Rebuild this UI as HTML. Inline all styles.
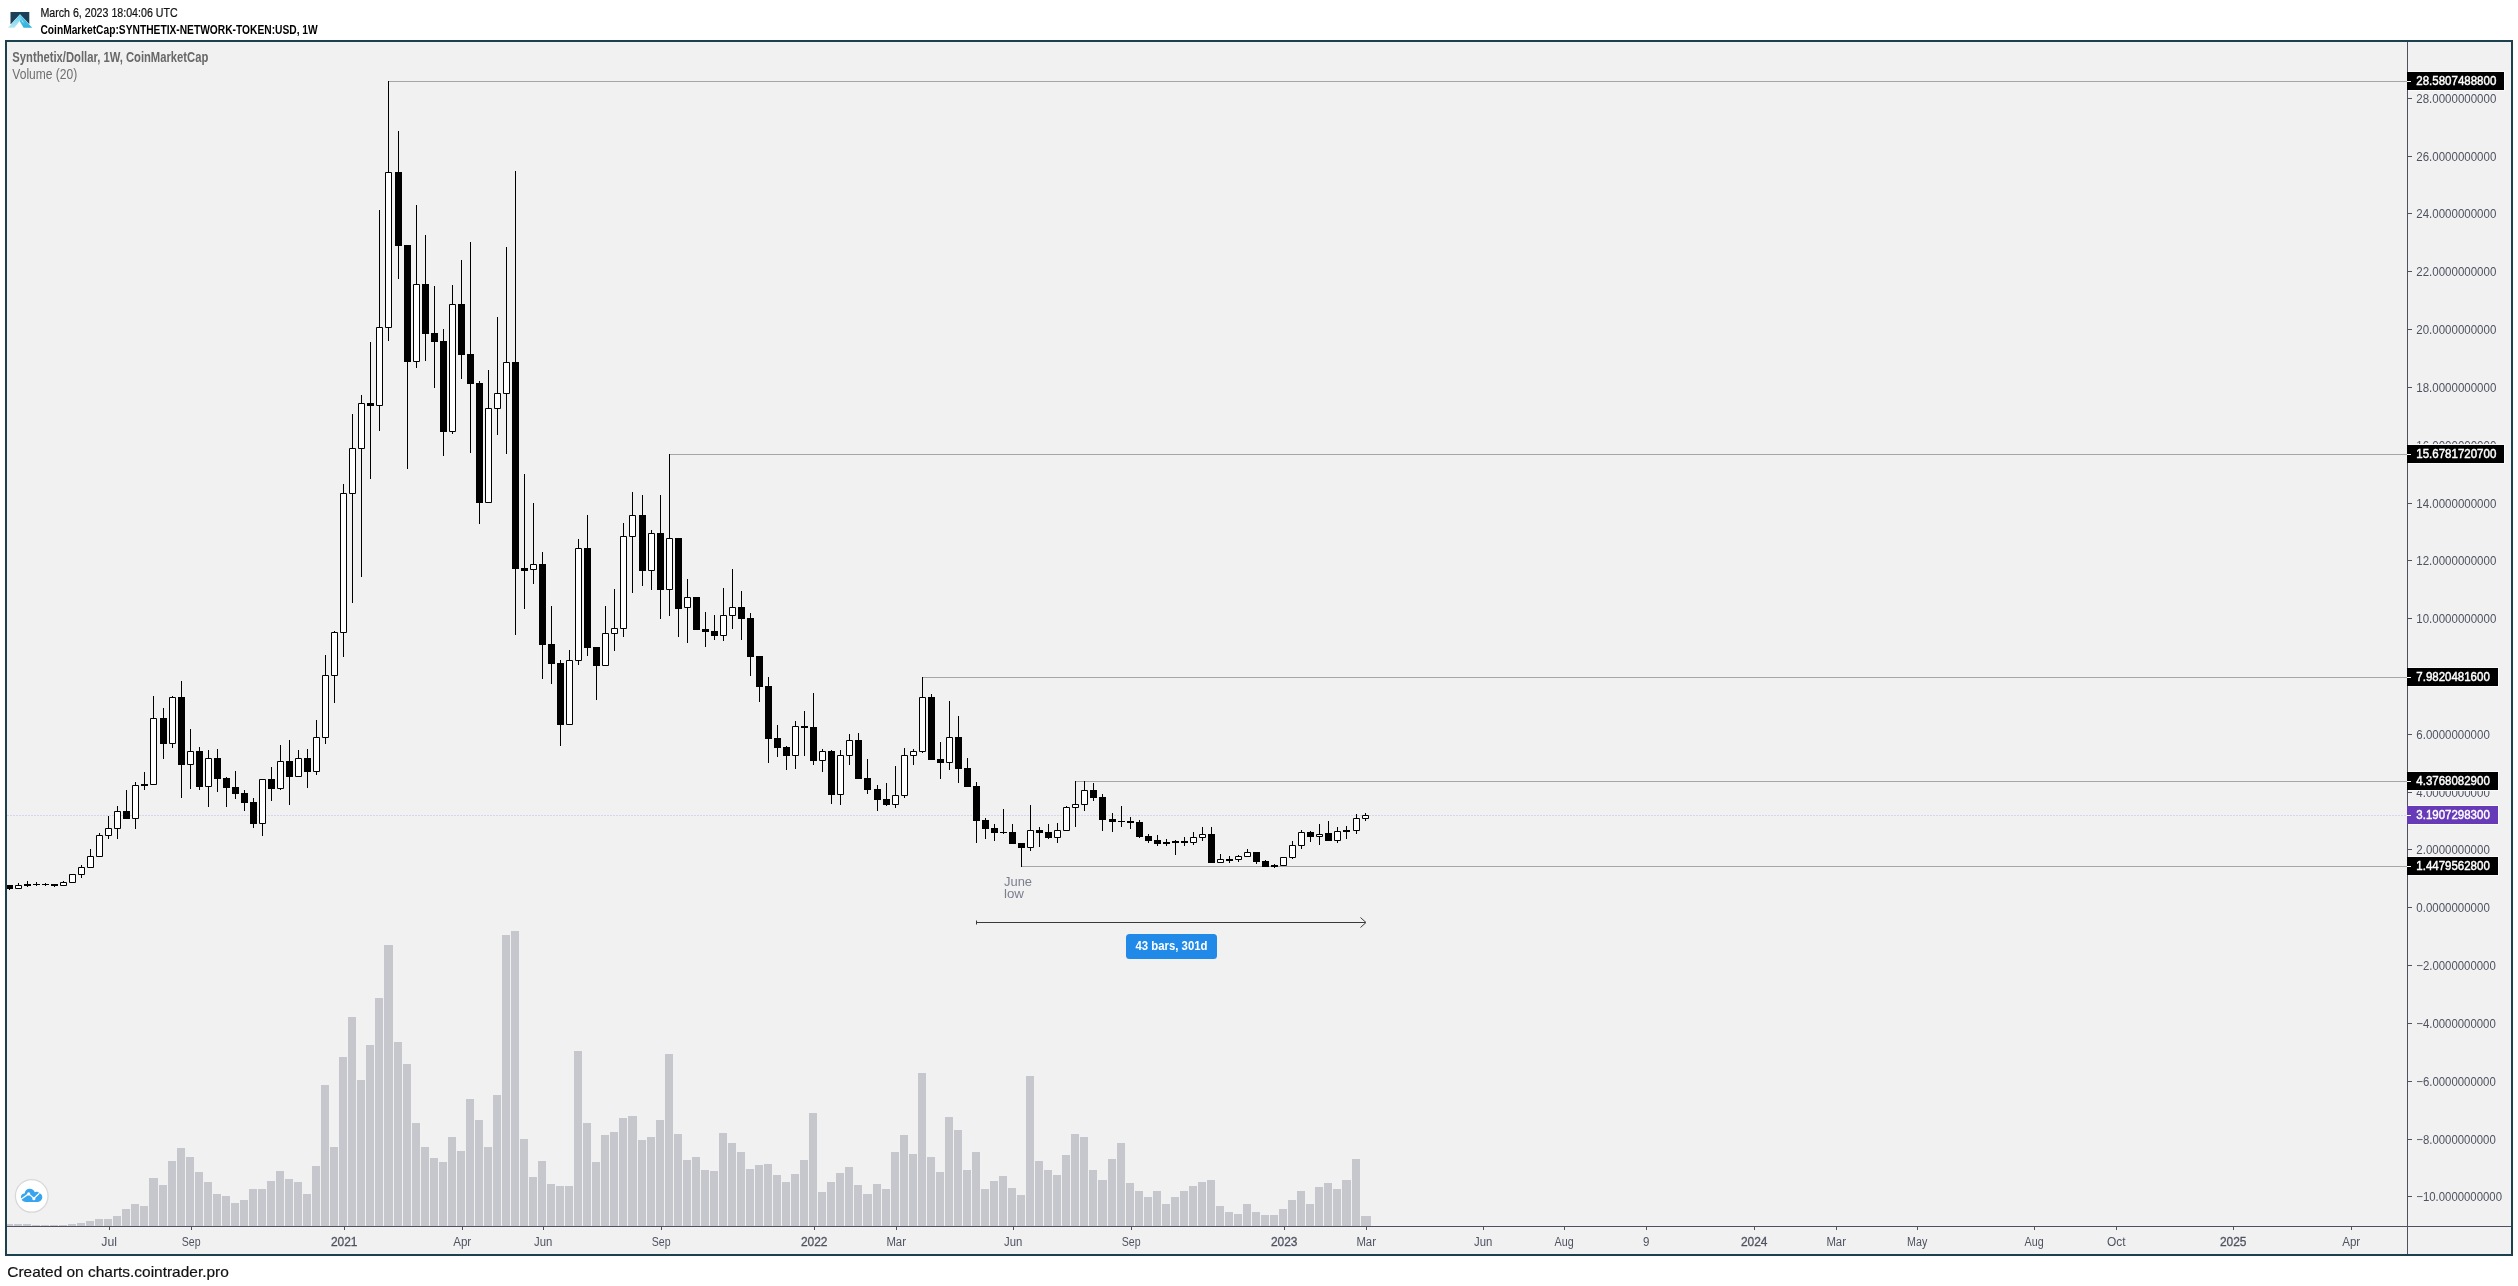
<!DOCTYPE html>
<html lang="en">
<head>
<meta charset="utf-8">
<title>Synthetix/Dollar, 1W, CoinMarketCap</title>
<style>
html,body{margin:0;padding:0;background:#fff;}
body{width:2518px;height:1286px;position:relative;overflow:hidden;font-family:"Liberation Sans",sans-serif;}
.header{position:absolute;left:0;top:0;width:2518px;height:40px;}
.header svg{position:absolute;left:0;top:0;}
.chart{position:absolute;left:5px;top:40px;width:2504px;height:1212px;border:2px solid #1c404e;background:#f1f1f1;}
.chart svg{position:absolute;left:-7px;top:-42px;}
.footer{position:absolute;left:0;top:1256px;width:2518px;height:30px;}
.footer svg{position:absolute;left:0;top:0;}
svg{will-change:transform;}
svg text{font-family:"Liberation Sans",sans-serif;}
.h1{font-size:12px;fill:#111;stroke:#111;stroke-width:0.2px;}
.h2{font-size:12px;font-weight:bold;fill:#000;}
.ft{font-size:15px;fill:#111;stroke:#111;stroke-width:0.2px;}
.vol{fill:#c6c7cc;}
.lvl{fill:#a6a6a6;}
.cur{stroke:#d9d4ec;stroke-width:1;stroke-dasharray:2 1;fill:none;}
.wk{stroke:#000;stroke-width:1;fill:none;transform:translate(0.5px,0);}
.cb{fill:#000;}
.cw{fill:#fff;stroke:#000;stroke-width:1;}
.note{font-size:12.5px;fill:#7b7f8e;}
.arr{stroke:#3a3a3a;stroke-width:1;fill:none;}
.rng{font-size:12px;font-weight:bold;fill:#fff;}
.pt{font-size:12.5px;fill:#4f5361;}
.pb{font-size:12.5px;fill:#fff;stroke:#fff;stroke-width:0.45px;}
.tt{font-size:12px;fill:#4f5361;}
.tt.b{stroke:#4f5361;stroke-width:0.3px;}
.lg1{font-size:14px;font-weight:bold;fill:#686868;}
.lg2{font-size:14px;fill:#6f6f6f;}
</style>
</head>
<body>
<div class="header">
<svg width="2518" height="40" viewBox="0 0 2518 40">
<defs>
<linearGradient id="lg_l" x1="0" y1="0" x2="0" y2="1"><stop offset="0" stop-color="#5fd0f0"/><stop offset="1" stop-color="#b4e6f2"/></linearGradient>
<linearGradient id="lg_r" x1="0" y1="0" x2="0" y2="1"><stop offset="0" stop-color="#55cdf0"/><stop offset="1" stop-color="#32b0da"/></linearGradient>
</defs>
<rect x="10.5" y="12" width="18.8" height="12.1" fill="#1b3f57"/>
<path d="M20 14.2L7.6 27.8H32.6z" fill="#fff"/>
<path d="M20 14.600L32.200 27.800H23.600L19.600 21z" fill="url(#lg_r)"/>
<path d="M20 14.600L8 27.800H14.500L19.600 21L21.700 19.100z" fill="url(#lg_l)"/>
<path d="M21.400 18.800L24 22.900L22.200 21.900z" fill="#aee5f3"/>
<text class="h1" x="40.400" y="16.700" textLength="137.300" lengthAdjust="spacingAndGlyphs">March 6, 2023 18:04:06 UTC</text>
<text class="h2" x="40.400" y="33.600" textLength="277.300" lengthAdjust="spacingAndGlyphs">CoinMarketCap:SYNTHETIX-NETWORK-TOKEN:USD, 1W</text>
</svg>
</div>
<div class="chart">
<svg width="2518" height="1286" viewBox="0 0 2518 1286">
<path class="vol" d="M7 1224h6V1226h-6zM14 1224h8V1226h-8zM23 1224h8V1226h-8zM32 1225h8V1226h-8zM41 1225h8V1226h-8zM50 1225h8V1226h-8zM59 1225h8V1226h-8zM68 1224h8V1226h-8zM77 1223h8V1226h-8zM86 1221h8V1226h-8zM95 1219h8V1226h-8zM104 1219h8V1226h-8zM113 1216h8V1226h-8zM122 1209h8V1226h-8zM131 1204h8V1226h-8zM140 1206h8V1226h-8zM149 1178h9V1226h-9zM159 1185h8V1226h-8zM168 1161h8V1226h-8zM177 1148h8V1226h-8zM186 1157h8V1226h-8zM195 1172h8V1226h-8zM204 1182h8V1226h-8zM213 1194h8V1226h-8zM222 1196h8V1226h-8zM231 1203h8V1226h-8zM240 1200h8V1226h-8zM249 1189h8V1226h-8zM258 1189h8V1226h-8zM267 1181h8V1226h-8zM276 1171h8V1226h-8zM285 1179h8V1226h-8zM294 1182h8V1226h-8zM303 1194h8V1226h-8zM312 1166h8V1226h-8zM321 1085h8V1226h-8zM330 1147h8V1226h-8zM339 1057h8V1226h-8zM348 1017h8V1226h-8zM357 1080h8V1226h-8zM366 1045h8V1226h-8zM375 998h8V1226h-8zM384 945h9V1226h-9zM394 1042h8V1226h-8zM403 1064h8V1226h-8zM412 1123h8V1226h-8zM421 1147h8V1226h-8zM430 1158h8V1226h-8zM439 1162h8V1226h-8zM448 1137h8V1226h-8zM457 1151h8V1226h-8zM466 1099h8V1226h-8zM475 1120h8V1226h-8zM484 1147h8V1226h-8zM493 1095h8V1226h-8zM502 935h8V1226h-8zM511 931h8V1226h-8zM520 1139h8V1226h-8zM529 1177h8V1226h-8zM538 1161h8V1226h-8zM547 1184h8V1226h-8zM556 1186h8V1226h-8zM565 1186h8V1226h-8zM574 1051h8V1226h-8zM583 1123h8V1226h-8zM592 1162h8V1226h-8zM601 1135h8V1226h-8zM610 1132h8V1226h-8zM619 1118h8V1226h-8zM628 1116h9V1226h-9zM638 1140h8V1226h-8zM647 1137h8V1226h-8zM656 1120h8V1226h-8zM665 1054h8V1226h-8zM674 1134h8V1226h-8zM683 1160h8V1226h-8zM692 1157h8V1226h-8zM701 1170h8V1226h-8zM710 1171h8V1226h-8zM719 1133h8V1226h-8zM728 1143h8V1226h-8zM737 1152h8V1226h-8zM746 1169h8V1226h-8zM755 1165h8V1226h-8zM764 1164h8V1226h-8zM773 1175h8V1226h-8zM782 1182h8V1226h-8zM791 1174h8V1226h-8zM800 1160h8V1226h-8zM809 1113h8V1226h-8zM818 1192h8V1226h-8zM827 1182h8V1226h-8zM836 1173h8V1226h-8zM845 1167h8V1226h-8zM854 1185h8V1226h-8zM863 1194h9V1226h-9zM873 1184h8V1226h-8zM882 1189h8V1226h-8zM891 1152h8V1226h-8zM900 1135h8V1226h-8zM909 1154h8V1226h-8zM918 1073h8V1226h-8zM927 1157h8V1226h-8zM936 1172h8V1226h-8zM945 1117h8V1226h-8zM954 1130h8V1226h-8zM963 1170h8V1226h-8zM972 1152h8V1226h-8zM981 1189h8V1226h-8zM990 1181h8V1226h-8zM999 1176h8V1226h-8zM1008 1188h8V1226h-8zM1017 1195h8V1226h-8zM1026 1076h8V1226h-8zM1035 1161h8V1226h-8zM1044 1170h8V1226h-8zM1053 1175h8V1226h-8zM1062 1155h8V1226h-8zM1071 1134h8V1226h-8zM1080 1137h8V1226h-8zM1089 1170h8V1226h-8zM1098 1180h9V1226h-9zM1108 1159h8V1226h-8zM1117 1143h8V1226h-8zM1126 1183h8V1226h-8zM1135 1191h8V1226h-8zM1144 1197h8V1226h-8zM1153 1191h8V1226h-8zM1162 1204h8V1226h-8zM1171 1197h8V1226h-8zM1180 1191h8V1226h-8zM1189 1186h8V1226h-8zM1198 1182h8V1226h-8zM1207 1180h8V1226h-8zM1216 1206h8V1226h-8zM1225 1212h8V1226h-8zM1234 1214h8V1226h-8zM1243 1204h8V1226h-8zM1252 1212h8V1226h-8zM1261 1215h8V1226h-8zM1270 1215h8V1226h-8zM1279 1209h8V1226h-8zM1288 1200h8V1226h-8zM1297 1191h8V1226h-8zM1306 1204h8V1226h-8zM1315 1187h8V1226h-8zM1324 1183h8V1226h-8zM1333 1189h8V1226h-8zM1342 1180h9V1226h-9zM1352 1159h8V1226h-8zM1361 1216h10V1226h-10z"/>
<rect class="lvl" x="388" y="81" width="2019" height="1"/>
<rect class="lvl" x="669" y="454" width="1738" height="1"/>
<rect class="lvl" x="922" y="677" width="1485" height="1"/>
<rect class="lvl" x="1075" y="781" width="1332" height="1"/>
<rect class="lvl" x="1021" y="866" width="1386" height="1"/>
<path class="cur" d="M7 815.5H2407"/>
<path class="wk" d="M9 885v5M18 883v6M27 881v6M36 882v4M45 883v3M54 884v3M63 881v5M72 874v9M81 865v13M90 849v19M99 833v24M108 816v23M117 806v33M126 790v29M135 782v47M144 772v18M153 696v89M163 708v51M172 696v52M181 681v117M190 729v60M199 747v43M208 750v57M217 749v43M226 777v30M235 771v28M244 790v21M253 798v30M262 779v57M271 767v34M280 745v45M289 740v65M298 750v27M307 749v39M316 720v55M325 655v89M334 631v72M343 484v173M352 414v189M361 395v182M370 342v137M379 210v221M388 81v260M398 131v148M407 245v224M416 205v163M425 235v126M434 286v102M443 329v127M452 285v149M461 260v119M470 242v211M479 381v143M488 370v133M497 317v118M506 247v207M515 171v464M524 474v135M533 503v81M542 552v127M551 606v78M560 660v86M569 650v75M578 539v126M587 515v141M596 647v53M605 606v60M614 589v62M623 523v114M632 492v101M642 495v91M651 530v60M660 495v124M669 454v162M678 538v99M687 579v64M696 597v33M705 612v35M714 615v25M723 588v53M732 569v60M741 591v49M750 613v63M759 656v46M768 677v86M777 725v32M786 746v24M795 721v48M804 711v45M813 693v72M822 749v23M831 750v54M840 750v55M849 734v31M858 733v46M867 759v35M877 785v26M886 783v23M895 766v42M904 748v50M913 749v16M922 677v76M931 694v66M940 742v37M949 701v69M958 716v67M967 758v29M976 782v61M985 818v21M994 824v17M1003 809v25M1012 824v20M1021 843v24M1030 805v46M1039 827v20M1048 824v15M1057 823v20M1066 806v25M1075 781v46M1084 781v30M1093 783v18M1102 794v37M1112 813v19M1121 806v21M1130 817v12M1139 820v18M1148 834v9M1157 835v11M1166 839v7M1175 840v15M1184 837v9M1193 832v13M1202 827v14M1211 827v36M1220 854v9M1229 856v7M1238 855v7M1247 849v8M1256 852v12M1265 860v7M1274 864v4M1283 857v9M1292 841v18M1301 830v19M1310 831v11M1319 824v21M1328 821v20M1337 827v16M1346 826v13M1356 814v20M1365 813v8"/>
<path class="cb" d="M7 885h6v4h-6zM24 884h7v2h-7zM33 884h7v1h-7zM42 884h7v1h-7zM51 884h7v2h-7zM123 811h7v8h-7zM141 784h7v2h-7zM160 718h7v26h-7zM178 697h7v68h-7zM196 751h7v36h-7zM214 758h7v21h-7zM223 778h7v10h-7zM232 787h7v7h-7zM241 793h7v10h-7zM250 802h7v22h-7zM268 779h7v10h-7zM286 761h7v16h-7zM304 758h7v14h-7zM367 403h7v3h-7zM395 172h7v74h-7zM404 245h7v117h-7zM422 284h7v50h-7zM431 333h7v9h-7zM440 341h7v91h-7zM458 304h7v51h-7zM467 354h7v30h-7zM476 383h7v120h-7zM512 362h7v207h-7zM521 568h7v3h-7zM539 564h7v81h-7zM548 644h7v20h-7zM557 663h7v62h-7zM584 548h7v100h-7zM593 647h7v19h-7zM639 515h7v56h-7zM657 533h7v57h-7zM675 538h7v71h-7zM693 597h7v33h-7zM702 629h7v3h-7zM711 631h7v5h-7zM738 607h7v12h-7zM747 618h7v39h-7zM756 656h7v31h-7zM765 686h7v53h-7zM774 738h7v10h-7zM783 747h7v9h-7zM801 726h7v2h-7zM810 727h7v34h-7zM828 751h7v44h-7zM855 740h7v39h-7zM864 778h7v12h-7zM874 789h7v11h-7zM883 799h7v6h-7zM928 697h7v63h-7zM937 759h7v4h-7zM955 737h7v32h-7zM964 768h7v19h-7zM973 786h7v35h-7zM982 820h7v9h-7zM991 828h7v5h-7zM1000 832h7v1h-7zM1009 832h7v12h-7zM1018 843h7v5h-7zM1036 830h7v3h-7zM1045 832h7v6h-7zM1090 790h7v8h-7zM1099 797h7v23h-7zM1109 819h7v3h-7zM1118 821h7v1h-7zM1127 821h7v2h-7zM1136 822h7v15h-7zM1145 836h7v5h-7zM1154 840h7v4h-7zM1163 842h7v2h-7zM1172 841h7v2h-7zM1181 841h7v2h-7zM1208 834h7v29h-7zM1226 859h7v2h-7zM1253 852h7v10h-7zM1262 861h7v6h-7zM1271 865h7v2h-7zM1307 832h7v5h-7zM1325 833h7v8h-7zM1343 830h7v2h-7z"/>
<path class="cw" d="M15.5 885.5h6v3h-6zM60.5 882.5h6v3h-6zM69.5 874.5h6v8h-6zM78.5 867.5h6v7h-6zM87.5 856.5h6v11h-6zM96.5 835.5h6v21h-6zM105.5 828.5h6v7h-6zM114.5 811.5h6v17h-6zM132.5 785.5h6v33h-6zM150.5 718.5h6v66h-6zM169.5 697.5h6v46h-6zM187.5 751.5h6v13h-6zM205.5 758.5h6v28h-6zM259.5 779.5h6v44h-6zM277.5 761.5h6v27h-6zM295.5 758.5h6v18h-6zM313.5 737.5h6v34h-6zM322.5 675.5h6v62h-6zM331.5 632.5h6v43h-6zM340.5 493.5h6v139h-6zM349.5 448.5h6v45h-6zM358.5 403.5h6v45h-6zM376.5 327.5h6v78h-6zM385.5 172.5h6v155h-6zM413.5 284.5h6v77h-6zM449.5 304.5h6v127h-6zM485.5 408.5h6v94h-6zM494.5 393.5h6v15h-6zM503.5 362.5h6v31h-6zM530.5 564.5h6v5h-6zM566.5 660.5h6v64h-6zM575.5 548.5h6v112h-6zM602.5 633.5h6v32h-6zM611.5 628.5h6v5h-6zM620.5 536.5h6v92h-6zM629.5 515.5h6v21h-6zM648.5 533.5h6v37h-6zM666.5 538.5h6v51h-6zM684.5 597.5h6v10h-6zM720.5 615.5h6v20h-6zM729.5 607.5h6v8h-6zM792.5 726.5h6v29h-6zM819.5 751.5h6v9h-6zM837.5 755.5h6v39h-6zM846.5 740.5h6v15h-6zM892.5 795.5h6v9h-6zM901.5 755.5h6v40h-6zM910.5 751.5h6v4h-6zM919.5 697.5h6v54h-6zM946.5 737.5h6v25h-6zM1027.5 830.5h6v17h-6zM1054.5 830.5h6v7h-6zM1063.5 807.5h6v23h-6zM1072.5 804.5h6v3h-6zM1081.5 790.5h6v14h-6zM1190.5 837.5h6v5h-6zM1199.5 834.5h6v3h-6zM1217.5 859.5h6v3h-6zM1235.5 856.5h6v3h-6zM1244.5 852.5h6v4h-6zM1280.5 857.5h6v8h-6zM1289.5 845.5h6v12h-6zM1298.5 832.5h6v13h-6zM1316.5 834.5h6v2h-6zM1334.5 831.5h6v9h-6zM1353.5 818.5h6v12h-6zM1362.5 815.5h6v3h-6z"/>
<text class="note" x="1004" y="885.7" textLength="28" lengthAdjust="spacingAndGlyphs">June</text>
<text class="note" x="1004" y="898.2" textLength="20" lengthAdjust="spacingAndGlyphs">low</text>
<path class="arr" d="M976.5 922.5H1365.5M976.5 920.5v4M1360.5 917.5l5.5 5l-5.5 5"/>
<rect x="1126" y="934" width="91" height="25" rx="3.5" fill="#218ae8"/>
<text class="rng" x="1171.5" y="949.5" text-anchor="middle" textLength="72" lengthAdjust="spacingAndGlyphs">43 bars, 301d</text>
<rect x="2407" y="42" width="1" height="1212" fill="#4f5361"/>
<rect x="7" y="1226" width="2504" height="1" fill="#4f5361"/>
<text class="pt" x="2416.3" y="103.1" textLength="80.0" lengthAdjust="spacingAndGlyphs">28.0000000000</text>
<text class="pt" x="2416.3" y="161.1" textLength="80.0" lengthAdjust="spacingAndGlyphs">26.0000000000</text>
<text class="pt" x="2416.3" y="218.1" textLength="80.0" lengthAdjust="spacingAndGlyphs">24.0000000000</text>
<text class="pt" x="2416.3" y="276.1" textLength="80.0" lengthAdjust="spacingAndGlyphs">22.0000000000</text>
<text class="pt" x="2416.3" y="334.1" textLength="80.0" lengthAdjust="spacingAndGlyphs">20.0000000000</text>
<text class="pt" x="2416.3" y="392.1" textLength="80.0" lengthAdjust="spacingAndGlyphs">18.0000000000</text>
<text class="pt" x="2416.3" y="450.1" textLength="80.0" lengthAdjust="spacingAndGlyphs">16.0000000000</text>
<text class="pt" x="2416.3" y="508.1" textLength="80.0" lengthAdjust="spacingAndGlyphs">14.0000000000</text>
<text class="pt" x="2416.3" y="565.1" textLength="80.0" lengthAdjust="spacingAndGlyphs">12.0000000000</text>
<text class="pt" x="2416.3" y="623.1" textLength="80.0" lengthAdjust="spacingAndGlyphs">10.0000000000</text>
<text class="pt" x="2416.3" y="681.1" textLength="73.5" lengthAdjust="spacingAndGlyphs">8.0000000000</text>
<text class="pt" x="2416.3" y="739.1" textLength="73.5" lengthAdjust="spacingAndGlyphs">6.0000000000</text>
<text class="pt" x="2416.3" y="797.1" textLength="73.5" lengthAdjust="spacingAndGlyphs">4.0000000000</text>
<text class="pt" x="2416.3" y="854.1" textLength="73.5" lengthAdjust="spacingAndGlyphs">2.0000000000</text>
<text class="pt" x="2416.3" y="912.1" textLength="73.5" lengthAdjust="spacingAndGlyphs">0.0000000000</text>
<text class="pt" x="2416.3" y="970.1" textLength="79.5" lengthAdjust="spacingAndGlyphs">−2.0000000000</text>
<text class="pt" x="2416.3" y="1028.1" textLength="79.5" lengthAdjust="spacingAndGlyphs">−4.0000000000</text>
<text class="pt" x="2416.3" y="1086.1" textLength="79.5" lengthAdjust="spacingAndGlyphs">−6.0000000000</text>
<text class="pt" x="2416.3" y="1144.1" textLength="79.5" lengthAdjust="spacingAndGlyphs">−8.0000000000</text>
<text class="pt" x="2416.3" y="1201.1" textLength="85.7" lengthAdjust="spacingAndGlyphs">−10.0000000000</text>
<path d="M2408 98.5h4M2408 156.5h4M2408 213.5h4M2408 271.5h4M2408 329.5h4M2408 387.5h4M2408 445.5h4M2408 503.5h4M2408 560.5h4M2408 618.5h4M2408 676.5h4M2408 734.5h4M2408 792.5h4M2408 849.5h4M2408 907.5h4M2408 965.5h4M2408 1023.5h4M2408 1081.5h4M2408 1139.5h4M2408 1196.5h4" stroke="#4f5361" stroke-width="1" fill="none"/>
<rect x="2408" y="71" width="97" height="20" fill="#fafafa"/>
<rect x="2407" y="72" width="97" height="18" fill="#000"/>
<rect x="2407" y="81" width="4" height="1" fill="#fff"/>
<text class="pb" x="2416.3" y="85.2" textLength="80.0" lengthAdjust="spacingAndGlyphs">28.5807488800</text>
<rect x="2408" y="444" width="97" height="20" fill="#fafafa"/>
<rect x="2407" y="445" width="97" height="18" fill="#000"/>
<rect x="2407" y="454" width="4" height="1" fill="#fff"/>
<text class="pb" x="2416.3" y="458.2" textLength="80.0" lengthAdjust="spacingAndGlyphs">15.6781720700</text>
<rect x="2408" y="667" width="91" height="20" fill="#fafafa"/>
<rect x="2407" y="668" width="91" height="18" fill="#000"/>
<rect x="2407" y="677" width="4" height="1" fill="#fff"/>
<text class="pb" x="2416.3" y="681.2" textLength="73.5" lengthAdjust="spacingAndGlyphs">7.9820481600</text>
<rect x="2408" y="771" width="91" height="20" fill="#fafafa"/>
<rect x="2407" y="772" width="91" height="18" fill="#000"/>
<rect x="2407" y="781" width="4" height="1" fill="#fff"/>
<text class="pb" x="2416.3" y="785.2" textLength="73.5" lengthAdjust="spacingAndGlyphs">4.3768082900</text>
<rect x="2408" y="805" width="91" height="20" fill="#fafafa"/>
<rect x="2407" y="806" width="91" height="18" fill="#673ab7"/>
<rect x="2407" y="815" width="4" height="1" fill="#fff"/>
<text class="pb" x="2416.3" y="819.2" textLength="73.5" lengthAdjust="spacingAndGlyphs">3.1907298300</text>
<rect x="2408" y="856" width="91" height="20" fill="#fafafa"/>
<rect x="2407" y="857" width="91" height="18" fill="#000"/>
<rect x="2407" y="866" width="4" height="1" fill="#fff"/>
<text class="pb" x="2416.3" y="870.2" textLength="73.5" lengthAdjust="spacingAndGlyphs">1.4479562800</text>
<text class="tt" x="109.2" y="1246.2" text-anchor="middle" textLength="15.7" lengthAdjust="spacingAndGlyphs">Jul</text>
<text class="tt" x="191.2" y="1246.2" text-anchor="middle" textLength="18.8" lengthAdjust="spacingAndGlyphs">Sep</text>
<text class="tt b" x="344.2" y="1246.2" text-anchor="middle" textLength="26.6" lengthAdjust="spacingAndGlyphs">2021</text>
<text class="tt" x="462.2" y="1246.2" text-anchor="middle" textLength="18" lengthAdjust="spacingAndGlyphs">Apr</text>
<text class="tt" x="543.2" y="1246.2" text-anchor="middle" textLength="18.3" lengthAdjust="spacingAndGlyphs">Jun</text>
<text class="tt" x="661.2" y="1246.2" text-anchor="middle" textLength="18.8" lengthAdjust="spacingAndGlyphs">Sep</text>
<text class="tt b" x="814.2" y="1246.2" text-anchor="middle" textLength="26.6" lengthAdjust="spacingAndGlyphs">2022</text>
<text class="tt" x="896.2" y="1246.2" text-anchor="middle" textLength="19.6" lengthAdjust="spacingAndGlyphs">Mar</text>
<text class="tt" x="1013.2" y="1246.2" text-anchor="middle" textLength="18.3" lengthAdjust="spacingAndGlyphs">Jun</text>
<text class="tt" x="1131.2" y="1246.2" text-anchor="middle" textLength="18.8" lengthAdjust="spacingAndGlyphs">Sep</text>
<text class="tt b" x="1284.2" y="1246.2" text-anchor="middle" textLength="26.6" lengthAdjust="spacingAndGlyphs">2023</text>
<text class="tt" x="1366.2" y="1246.2" text-anchor="middle" textLength="19.6" lengthAdjust="spacingAndGlyphs">Mar</text>
<text class="tt" x="1483.2" y="1246.2" text-anchor="middle" textLength="18.3" lengthAdjust="spacingAndGlyphs">Jun</text>
<text class="tt" x="1564.2" y="1246.2" text-anchor="middle" textLength="19.2" lengthAdjust="spacingAndGlyphs">Aug</text>
<text class="tt" x="1646.2" y="1246.2" text-anchor="middle" textLength="6.4" lengthAdjust="spacingAndGlyphs">9</text>
<text class="tt b" x="1754.2" y="1246.2" text-anchor="middle" textLength="26.6" lengthAdjust="spacingAndGlyphs">2024</text>
<text class="tt" x="1836.2" y="1246.2" text-anchor="middle" textLength="19.6" lengthAdjust="spacingAndGlyphs">Mar</text>
<text class="tt" x="1917.2" y="1246.2" text-anchor="middle" textLength="20.2" lengthAdjust="spacingAndGlyphs">May</text>
<text class="tt" x="2034.2" y="1246.2" text-anchor="middle" textLength="19.2" lengthAdjust="spacingAndGlyphs">Aug</text>
<text class="tt" x="2116.2" y="1246.2" text-anchor="middle" textLength="18.6" lengthAdjust="spacingAndGlyphs">Oct</text>
<text class="tt b" x="2233.2" y="1246.2" text-anchor="middle" textLength="26.6" lengthAdjust="spacingAndGlyphs">2025</text>
<text class="tt" x="2351.2" y="1246.2" text-anchor="middle" textLength="18" lengthAdjust="spacingAndGlyphs">Apr</text>
<path d="M109.5 1227v3M191.5 1227v3M344.5 1227v3M462.5 1227v3M543.5 1227v3M661.5 1227v3M814.5 1227v3M896.5 1227v3M1013.5 1227v3M1131.5 1227v3M1284.5 1227v3M1366.5 1227v3M1483.5 1227v3M1564.5 1227v3M1646.5 1227v3M1754.5 1227v3M1836.5 1227v3M1917.5 1227v3M2034.5 1227v3M2116.5 1227v3M2233.5 1227v3M2351.5 1227v3" stroke="#4f5361" stroke-width="1" fill="none"/>
<text class="lg1" x="12.3" y="61.6" textLength="196" lengthAdjust="spacingAndGlyphs">Synthetix/Dollar, 1W, CoinMarketCap</text>
<text class="lg2" x="12.3" y="79.4" textLength="65" lengthAdjust="spacingAndGlyphs">Volume (20)</text>
<g class="tvlogo"><circle cx="31.7" cy="1195.9" r="16.3" fill="#fff" stroke="#d8d8d8" stroke-width="1.3"/>
<path fill="#37a4ee" d="M24.6 1193.6c0.2-2.9 2.4-4.9 5.2-4.9c2.4 0 4.2 1.4 5 3.5c0.9-0.5 2.1-0.7 3.2-0.2c0.5 0.2 0.9 0.6 1.2 1c1.8 0.6 3.1 2.300 3.100 4.300c0 2.600-2 4.600-4.600 4.600h-11.900c-2.800 0-4.900-2.100-4.900-4.600c0-2.100 1.500-3.600 3.700-3.700z"/>
<path fill="none" stroke="#fff" stroke-width="1.25" d="M20.700 1199.600l7.900-5.700l5.300 4.600l5.400-5.300"/>
<circle cx="28.700" cy="1193.900" r="1.550" fill="#fff"/><circle cx="33.900" cy="1198.700" r="1.550" fill="#fff"/></g>
</svg>
</div>
<div class="footer">
<svg width="2518" height="30" viewBox="0 0 2518 30">
<text class="ft" x="7.300" y="21" textLength="221.500" lengthAdjust="spacingAndGlyphs">Created on charts.cointrader.pro</text>
</svg>
</div>
</body>
</html>
